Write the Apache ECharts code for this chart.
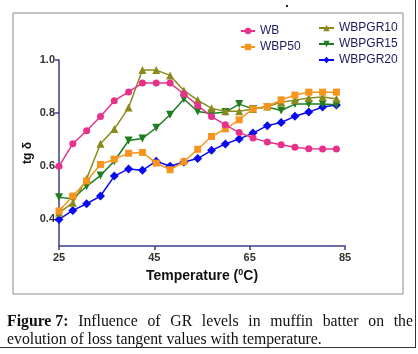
<!DOCTYPE html>
<html><head><meta charset="utf-8">
<script src="https://cdn.jsdelivr.net/npm/echarts@6/dist/echarts.min.js"></script>
<style>html,body{margin:0;padding:0;background:#fff}#c{width:418px;height:354px}</style>
</head><body><div id="c"></div>
<script>
const temps = [25.0, 27.9, 30.8, 33.7, 36.6, 39.6, 42.5, 45.4, 48.3, 51.2, 54.1, 57.0, 59.9, 62.8, 65.7, 68.7, 71.6, 74.5, 77.4, 80.3, 83.2];
const WB = [0.600, 0.685, 0.734, 0.787, 0.847, 0.880, 0.913, 0.913, 0.913, 0.872, 0.829, 0.787, 0.756, 0.727, 0.706, 0.691, 0.681, 0.672, 0.666, 0.665, 0.665];
const WBP50 = [0.432, 0.488, 0.545, 0.607, 0.627, 0.649, 0.652, 0.612, 0.587, 0.617, 0.664, 0.712, 0.741, 0.775, 0.816, 0.825, 0.850, 0.868, 0.879, 0.879, 0.879];
const WBPGR10 = [0.425, 0.463, 0.553, 0.685, 0.740, 0.821, 0.962, 0.962, 0.942, 0.885, 0.849, 0.818, 0.807, 0.807, 0.816, 0.825, 0.841, 0.849, 0.857, 0.861, 0.854];
const WBPGR15 = [0.483, 0.478, 0.525, 0.565, 0.619, 0.697, 0.705, 0.745, 0.794, 0.853, 0.806, 0.799, 0.804, 0.834, 0.816, 0.823, 0.810, 0.834, 0.834, 0.834, 0.832];
const WBPGR20 = [0.400, 0.434, 0.459, 0.488, 0.563, 0.590, 0.585, 0.619, 0.600, 0.616, 0.629, 0.660, 0.684, 0.703, 0.725, 0.753, 0.765, 0.788, 0.804, 0.823, 0.831];
const yTicks = [0.4, 0.6, 0.8, 1.0];
const xTicks = [25, 45, 65, 85];
const captionLine1 = ['Figure 7:', 'Influence', 'of', 'GR', 'levels', 'in', 'muffin', 'batter', 'on', 'the'];
const captionLine2 = 'evolution of loss tangent values with temperature.';

const names = ['WB', 'WBP50', 'WBPGR10', 'WBPGR15', 'WBPGR20'];
const values = [WB, WBP50, WBPGR10, WBPGR15, WBPGR20];
const colors = ['#e8318a', '#f7941d', '#8a8a1c', '#1f7d1f', '#0a0af0'];
const symbols = ['circle', 'rect', 'triangle', 'triangle', 'diamond'];
const symSizes = [7, 7, 8, 8, 9];
const rot = [0, 0, 0, 180, 0];

const series = names.map((n, i) => ({
  name: n, type: 'line',
  data: temps.map((t, j) => [t, values[i][j]]),
  symbol: symbols[i], symbolSize: symSizes[i], symbolRotate: rot[i],
  itemStyle: { color: colors[i] },
  lineStyle: { color: colors[i], width: 1.5 },
  z: 10 - i
}));

const serif = '"Liberation Serif", "DejaVu Serif", serif';
const cv = document.createElement('canvas').getContext('2d');
function w(t, size, bold) { cv.font = (bold ? 'bold ' : '') + size + 'px ' + serif; return cv.measureText(t).width; }
let fs = 13;
fs = Math.min(16, fs * 315 / w(captionLine2, 13, false));
const x0 = 7, x1 = 413;
const widths = captionLine1.map((t, i) => w(t, fs, i === 0));
const gap = (x1 - x0 - widths.reduce((a, b) => a + b, 0)) / (captionLine1.length - 1);
const capEls = [];
let cx = x0;
captionLine1.forEach((t, i) => {
  capEls.push({ type: 'text', left: cx, top: 323 - fs * 0.6, style: { text: t, font: (i === 0 ? 'bold ' : '') + fs + 'px ' + serif, fill: '#111' } });
  cx += widths[i] + gap;
});
capEls.push({ type: 'text', left: x0, top: 341 - fs * 0.6, style: { text: captionLine2, font: fs + 'px ' + serif, fill: '#111' } });

const axisColor = '#3c3c8a';
const sans = 'Arial, "Liberation Sans", sans-serif';
const chart = echarts.init(document.getElementById('c'), null, { renderer: 'canvas' });
chart.setOption({
  animation: false,
  backgroundColor: '#fff',
  grid: { left: 59, right: 73, top: 60, bottom: 108 },
  xAxis: {
    type: 'value', min: 25, max: 85, interval: 20,
    axisLine: { show: true, lineStyle: { color: axisColor, width: 1.5 } },
    axisTick: { show: true, length: 4, lineStyle: { color: axisColor, width: 1.5 }, customValues: xTicks },
    axisLabel: { customValues: xTicks, color: '#333', fontWeight: 'bold', fontSize: 11, fontFamily: sans, margin: 6 },
    splitLine: { show: false },
    name: '{a|Temperature (}{s|0}{a|C)}', nameLocation: 'middle', nameGap: 14,
    nameTextStyle: { rich: { a: { fontSize: 14, fontWeight: 'bold', color: '#111', fontFamily: sans }, s: { fontSize: 9, fontWeight: 'bold', color: '#111', verticalAlign: 'top', padding: [0, 0, 8, 0], fontFamily: sans } } }
  },
  yAxis: {
    type: 'value', min: 0.3, max: 1.0,
    axisLine: { show: true, lineStyle: { color: axisColor, width: 1.5 } },
    axisTick: { show: true, length: 4, lineStyle: { color: axisColor, width: 1.5 }, customValues: yTicks },
    axisLabel: { customValues: yTicks, formatter: v => v.toFixed(1), color: '#333', fontWeight: 'bold', fontSize: 11, fontFamily: sans, margin: 4 },
    splitLine: { show: false },
    name: 'tg δ', nameLocation: 'middle', nameGap: 25, nameRotate: 90, nameMoveOverlap: false,
    nameTextStyle: { fontSize: 12, fontWeight: 'bold', color: '#111', fontFamily: sans }
  },
  legend: [
    { data: ['WB', 'WBP50'], orient: 'vertical', left: 240, top: 25, padding: 0, itemWidth: 14, itemHeight: 8, itemGap: 4,
      textStyle: { color: '#1c1c5e', fontSize: 12, fontFamily: sans } },
    { data: ['WBPGR10', 'WBPGR15', 'WBPGR20'], orient: 'vertical', left: 318, top: 22, padding: 0, itemWidth: 15, itemHeight: 8, itemGap: 4,
      textStyle: { color: '#1c1c5e', fontSize: 12, fontFamily: sans } }
  ],
  series: series,
  graphic: [
    { type: 'rect', shape: { x: 13, y: 13, width: 390, height: 281 }, style: { fill: 'none', stroke: '#8a8a8a', lineWidth: 1 }, silent: true, z: -1 },
    { type: 'line', shape: { x1: 415.5, y1: 0, x2: 415.5, y2: 348 }, style: { stroke: '#333', lineWidth: 1 } },
    { type: 'line', shape: { x1: 0, y1: 347.5, x2: 416, y2: 347.5 }, style: { stroke: '#333', lineWidth: 1 } },
    { type: 'rect', shape: { x: 286, y: 5, width: 2, height: 2 }, style: { fill: '#222' } }
  ].concat(capEls)
});
</script></body></html>
